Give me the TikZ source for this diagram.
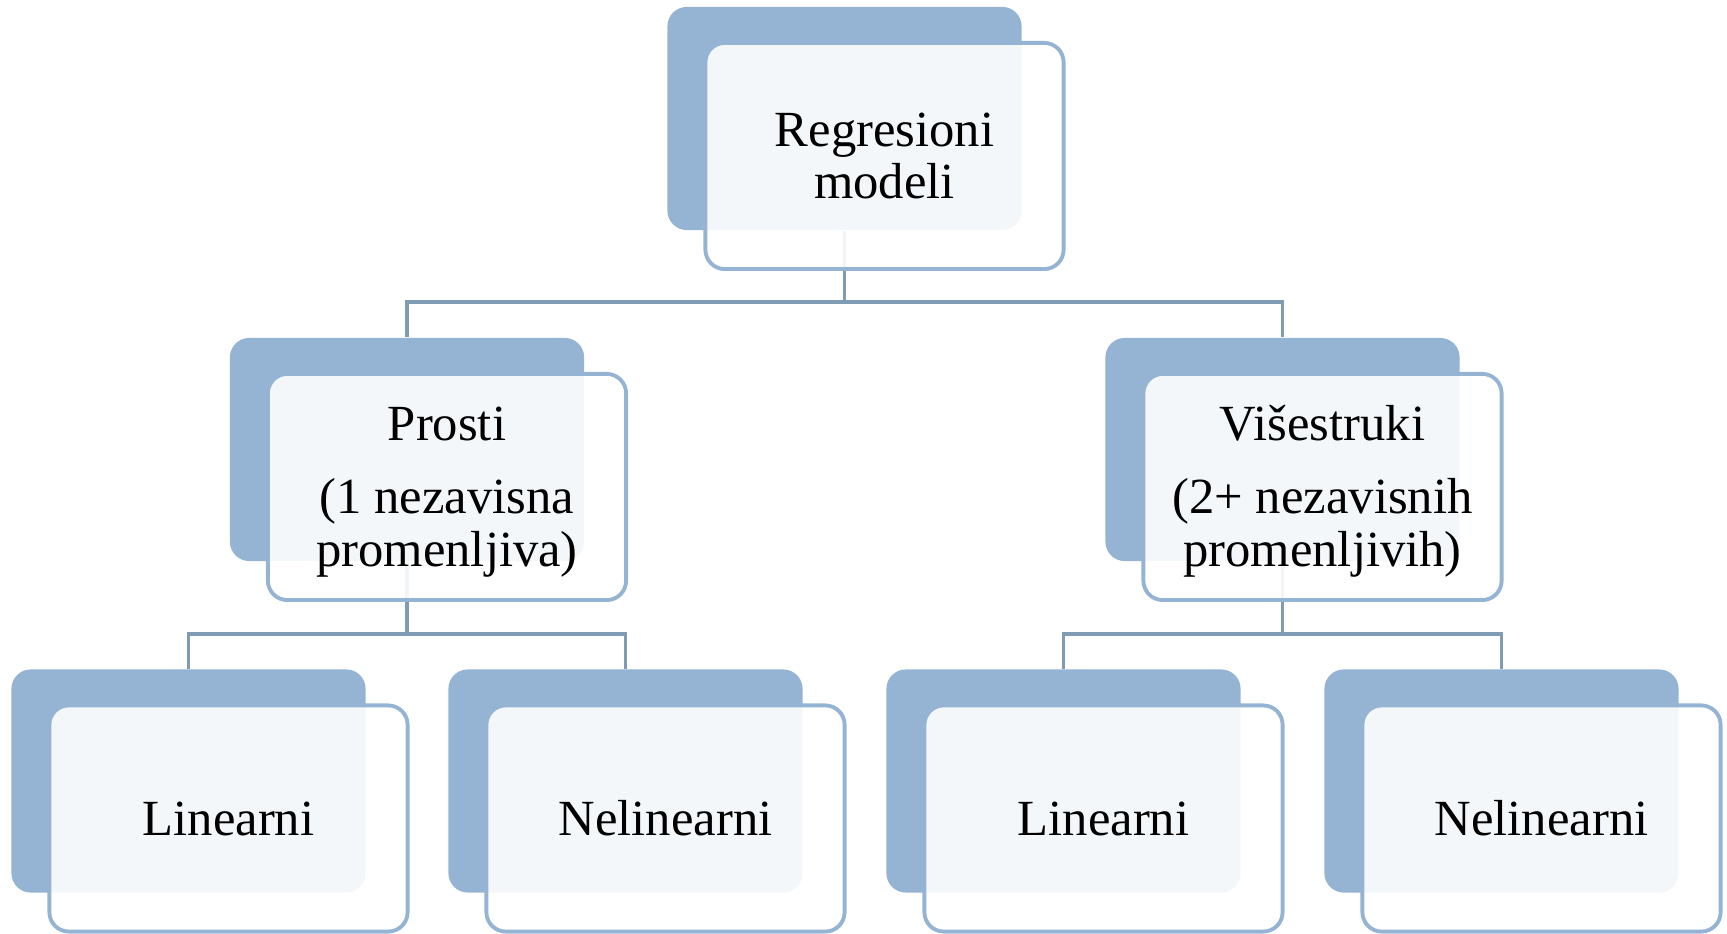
\documentclass[tikz,border=0pt]{standalone}
\usepackage{fontspec}
\setmainfont{Liberation Serif}
\definecolor{backfill}{RGB}{149,179,210}
\definecolor{frontline}{RGB}{149,179,210}
\definecolor{connline}{RGB}{128,155,180}
\begin{document}
\begin{tikzpicture}[x=0.01cm,y=-0.01cm,
  backbox/.style={rectangle, rounded corners=5.5pt, fill=backfill,
    minimum width=3.54cm, minimum height=2.23cm, inner sep=0pt},
  frontbox/.style={rectangle, rounded corners=5.5pt, draw=frontline, line width=1.1pt,
    fill=white, fill opacity=0.9, text opacity=1,
    minimum width=3.58cm, minimum height=2.26cm, inner sep=0pt, align=center,
    font=\fontsize{14.4}{14.9}\selectfont},
  conn/.style={draw=connline, line width=1.1pt}]
\useasboundingbox (0,0) rectangle (1727,934);

% back rectangles
\node[backbox] (r0b) at (844.5,118.5) {};
\node[backbox] (p1b) at (407,449.5) {};
\node[backbox] (p2b) at (1282.5,449.5) {};
\node[backbox] (l1b) at (188.5,781) {};
\node[backbox] (l2b) at (625.5,781) {};
\node[backbox] (l3b) at (1063.5,781) {};
\node[backbox] (l4b) at (1501.5,781) {};

% connectors
\coordinate (j0) at (844.5,302);
\coordinate (j1) at (407,634);
\coordinate (j2) at (1282.5,634);
\draw[conn] (r0b.south) -- (j0);
\draw[conn] (p1b.north) |- (j0) -| (p2b.north);
\draw[conn] (p1b.south) -- (j1);
\draw[conn] (l1b.north) |- (j1) -| (l2b.north);
\draw[conn] (p2b.south) -- (j2);
\draw[conn] (l3b.north) |- (j2) -| (l4b.north);

% front boxes
\node[frontbox] (r0) at (884.5,156) {Regresioni\\modeli};
\node[frontbox] (p1) at (447,487) {\rule{0pt}{2pt}\\[-4.5pt]Prosti\\[6pt](1 nezavisna\\promenljiva)};
\node[frontbox] (p2) at (1322.5,487) {\rule{0pt}{2pt}\\[-4.5pt]Višestruki\\[6pt](2+ nezavisnih\\promenljivih)};
\node[frontbox] (l1) at (228.5,818.5) {Linearni};
\node[frontbox] (l2) at (665.5,818.5) {Nelinearni};
\node[frontbox] (l3) at (1103.5,818.5) {Linearni};
\node[frontbox] (l4) at (1541.5,818.5) {Nelinearni};
\end{tikzpicture}
\end{document}
